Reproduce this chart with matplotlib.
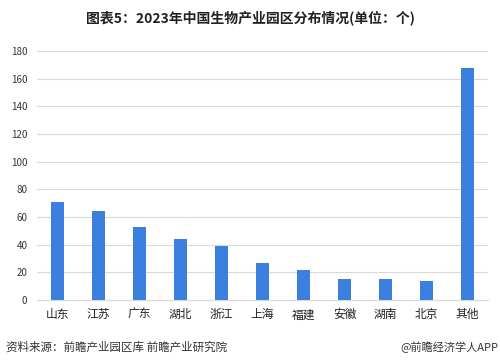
import matplotlib.pyplot as plt

plt.rcParams['font.family'] = ['Noto Sans CJK SC', 'DejaVu Sans']

# data
regions = ['山东', '江苏', '广东', '湖北', '浙江', '上海', '福建', '安徽', '湖南', '北京', '其他']
parks = [71, 64, 53, 44, 39, 27, 22, 15, 15, 14, 168]
yticks = [0, 20, 40, 60, 80, 100, 120, 140, 160, 180]

fig = plt.figure(figsize=(5, 3.64), dpi=100)
ax = fig.add_axes([0.074, 0.176, 0.902, 0.684])

x = range(len(regions))
ax.bar(x, parks, width=0.31, color='#3B80DE', zorder=3)

ax.set_xlim(-0.5, len(regions) - 0.5)
ax.set_ylim(0, 180)
ax.set_yticks(yticks)
ax.set_xticks(list(x))
ax.set_xticklabels(regions, fontsize=8.5, color='#222222')
ax.tick_params(axis='y', labelsize=7, colors='#333333', length=0, pad=7)
ax.tick_params(axis='x', length=0, pad=6)
ax.grid(axis='y', color='#D9D9D9', linewidth=0.8, zorder=0)
for s in ['top', 'right', 'left']:
    ax.spines[s].set_visible(False)
ax.spines['bottom'].set_color('#D9D9D9')

fig.text(0.5, 0.95, '图表5：2023年中国生物产业园区分布情况(单位：个)',
         ha='center', va='center', fontsize=10, fontweight='bold', color='#222222')
fig.text(0.012, 0.047, '资料来源：前瞻产业园区库 前瞻产业研究院',
         ha='left', va='center', fontsize=8.3, color='#333333')
fig.text(0.997, 0.047, '@前瞻经济学人APP',
         ha='right', va='center', fontsize=8, color='#333333')

fig.savefig('out.png', dpi=100)
